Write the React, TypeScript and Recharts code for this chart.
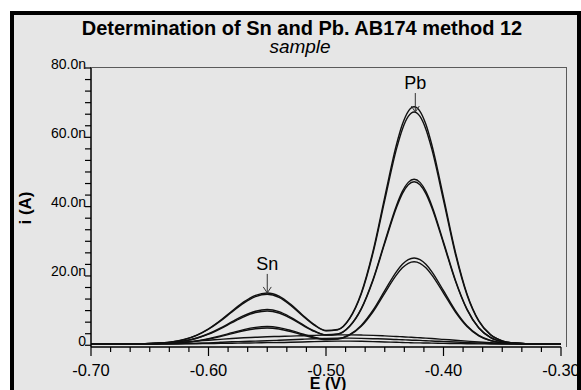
import { Line, LineChart, ReferenceDot, XAxis, YAxis } from "recharts";

// potential (V)
const potentials = [
  -0.7, -0.68, -0.66, -0.64, -0.63, -0.62, -0.61, -0.6, -0.59, -0.58, -0.57, -0.56, -0.55, -0.54, -0.53, -0.52,
  -0.51, -0.5, -0.49, -0.48, -0.47, -0.46, -0.45, -0.44, -0.435, -0.43, -0.425, -0.42, -0.415, -0.41, -0.4, -0.39,
  -0.38, -0.37, -0.36, -0.35, -0.34, -0.32, -0.3,
];

// current (nA), one array per scan
const scan1 = [
  0.4, 0.4, 0.44, 0.68, 1.05, 1.74, 2.93, 4.74, 7.13, 9.88, 12.5, 14.39, 15.1, 14.19, 11.8, 8.75,
  5.96, 4.27, 4.55, 7.75, 15.08, 27.16, 42.76, 57.92, 63.74, 67.5, 68.8, 67.5, 63.74, 57.92, 42.74, 27.08,
  14.83, 7.1, 3.07, 1.29, 0.67, 0.41, 0.4,
];
const scan2 = [
  0.4, 0.4, 0.44, 0.67, 1.03, 1.7, 2.86, 4.62, 6.95, 9.62, 12.17, 14.01, 14.7, 13.81, 11.49, 8.52,
  5.81, 4.17, 4.45, 7.59, 14.76, 26.57, 41.83, 56.66, 62.35, 66.03, 67.3, 66.03, 62.35, 56.66, 41.81, 26.49,
  14.52, 6.96, 3.01, 1.27, 0.66, 0.41, 0.4,
];
const scan3 = [
  0.4, 0.4, 0.43, 0.59, 0.84, 1.3, 2.1, 3.32, 4.93, 6.79, 8.55, 9.82, 10.3, 9.69, 8.07, 6.02,
  4.15, 3.03, 3.25, 5.5, 10.59, 18.99, 29.82, 40.35, 44.39, 47.0, 47.9, 47.0, 44.39, 40.35, 29.8, 18.93,
  10.42, 5.06, 2.25, 1.02, 0.59, 0.41, 0.4,
];
const scan4 = [
  0.4, 0.4, 0.43, 0.58, 0.82, 1.26, 2.03, 3.2, 4.75, 6.53, 8.22, 9.44, 9.9, 9.31, 7.76, 5.8,
  4.0, 2.94, 3.19, 5.41, 10.43, 18.7, 29.39, 39.76, 43.74, 46.31, 47.2, 46.31, 43.74, 39.76, 29.37, 18.65,
  10.27, 4.99, 2.23, 1.01, 0.58, 0.41, 0.4,
];
const scan5 = [
  0.4, 0.4, 0.41, 0.5, 0.62, 0.86, 1.26, 1.88, 2.69, 3.63, 4.52, 5.16, 5.4, 5.09, 4.28, 3.24,
  2.3, 1.74, 1.88, 3.05, 5.72, 10.1, 15.76, 21.26, 23.36, 24.73, 25.2, 24.73, 23.36, 21.26, 15.75, 10.07,
  5.63, 2.83, 1.37, 0.72, 0.5, 0.4, 0.4,
];
const scan6 = [
  0.4, 0.4, 0.41, 0.49, 0.6, 0.82, 1.19, 1.76, 2.51, 3.37, 4.19, 4.78, 5.0, 4.71, 3.97, 3.01,
  2.15, 1.64, 1.78, 2.92, 5.48, 9.67, 15.07, 20.33, 22.35, 23.65, 24.1, 23.65, 22.35, 20.33, 15.07, 9.64,
  5.4, 2.72, 1.32, 0.71, 0.49, 0.4, 0.4,
];
const sample1 = [
  0.4, 0.4, 0.45, 0.6, 0.75, 0.95, 1.2, 1.45, 1.7, 1.95, 2.15, 2.3, 2.45, 2.55, 2.65, 2.75,
  2.85, 2.95, 3.0, 3.0, 2.95, 2.85, 2.7, 2.55, 2.45, 2.35, 2.25, 2.15, 2.05, 1.95, 1.7, 1.45,
  1.2, 0.95, 0.75, 0.6, 0.5, 0.42, 0.4,
];
const sample2 = [
  0.35, 0.35, 0.35, 0.4, 0.45, 0.5, 0.6, 0.7, 0.85, 1.0, 1.1, 1.2, 1.3, 1.45, 1.6, 1.75,
  1.9, 2.0, 2.05, 2.05, 2.0, 1.9, 1.8, 1.65, 1.6, 1.5, 1.45, 1.4, 1.3, 1.25, 1.1, 0.95,
  0.8, 0.65, 0.55, 0.45, 0.4, 0.38, 0.38,
];
const sample3 = [
  0.3, 0.3, 0.3, 0.32, 0.35, 0.4, 0.45, 0.5, 0.55, 0.6, 0.65, 0.7, 0.75, 0.8, 0.85, 0.95,
  1.05, 1.15, 1.2, 1.2, 1.15, 1.05, 0.95, 0.85, 0.8, 0.75, 0.7, 0.68, 0.65, 0.62, 0.55, 0.5,
  0.45, 0.4, 0.38, 0.35, 0.33, 0.32, 0.3,
];

const scans = [scan1, scan2, scan3, scan4, scan5, scan6, sample1, sample2, sample3];

const xMajorTicks = [-0.7, -0.6, -0.5, -0.4, -0.3];
const xTickLabels = ["-0.70", "-0.60", "-0.50", "-0.40", "-0.30"];
const yMajorTicks = [0, 20, 40, 60, 80];
const yTickLabels = ["0", "20.0n", "40.0n", "60.0n", "80.0n"];

const peaks = [
  { label: "Sn", e: -0.55, i: 15.1 },
  { label: "Pb", e: -0.424, i: 67.3 },
];

const data = potentials.map((e, idx) => {
  const row: Record<string, number> = { e };
  scans.forEach((s, k) => {
    row["s" + k] = s[idx];
  });
  return row;
});

// 6 minor divisions between major ticks
const subdivide = (major: number[]) => {
  const out: number[] = [];
  for (let m = 0; m < major.length - 1; m++) {
    const step = (major[m + 1] - major[m]) / 6;
    for (let k = 0; k < 6; k++) out.push(major[m] + k * step);
  }
  out.push(major[major.length - 1]);
  return out;
};
const xTicks = subdivide(xMajorTicks);
const yTicks = subdivide(yMajorTicks);

const findMajor = (list: number[], v: number) => list.findIndex((m) => Math.abs(m - v) < 1e-6);

const FONT = "'Liberation Sans', Arial, sans-serif";

const XTick = (props: any) => {
  const { x, y, payload } = props;
  const idx = findMajor(xMajorTicks, payload.value);
  const major = idx >= 0;
  return (
    <g>
      <line x1={x} x2={x} y1={y} y2={y + (major ? 9 : 5)} stroke="#000" strokeWidth={1.2} />
      {major && (
        <text x={x} y={y + 29} textAnchor="middle" fontSize={16.5} fontFamily={FONT} fill="#000">
          {xTickLabels[idx]}
        </text>
      )}
    </g>
  );
};

const YTick = (props: any) => {
  const { x, y, payload } = props;
  const idx = findMajor(yMajorTicks, payload.value);
  return (
    <g>
      <line x1={x - 6} x2={x} y1={y} y2={y} stroke="#000" strokeWidth={1.2} />
      {idx >= 0 && (
        <text x={x - 5} y={y + 0.5} textAnchor="end" fontSize={14} fontFamily={FONT} fill="#000">
          {yTickLabels[idx]}
        </text>
      )}
    </g>
  );
};

const peakMarker = (label: string) => (props: any) => {
  const { cx, cy } = props;
  return (
    <g>
      <text x={cx} y={cy - 23} textAnchor="middle" fontSize={18} fontFamily={FONT} fill="#000">
        {label}
      </text>
      <line x1={cx} x2={cx} y1={cy - 19} y2={cy} stroke="#333" strokeWidth={1} />
      <polyline points={`${cx - 4},${cy - 6} ${cx},${cy} ${cx + 4},${cy - 6}`} fill="none" stroke="#333" strokeWidth={1} />
    </g>
  );
};

export default function App() {
  return (
    <div style={{ position: "absolute", left: 0, top: 0, width: 581, height: 390, overflow: "hidden" }}>
      <div
        style={{
          position: "absolute",
          left: 10,
          top: 11,
          width: 571,
          height: 379,
          boxSizing: "border-box",
          border: "4px solid #000",
          borderBottom: "none",
          background: "#e6e6e6",
        }}
      />
      <div
        style={{
          position: "absolute",
          left: 90,
          top: 67,
          width: 477,
          height: 280,
          boxSizing: "border-box",
          borderTop: "1.5px solid #5a5a5a",
          borderRight: "1.5px solid #5a5a5a",
        }}
      />
      <div style={{ position: "absolute", left: 0, top: 0 }}>
        <LineChart width={581} height={390} data={data} margin={{ top: 68, right: 20, bottom: 13, left: 11 }}>
          <XAxis
            dataKey="e"
            type="number"
            domain={[-0.7, -0.3]}
            ticks={xTicks}
            interval={0}
            tick={<XTick />}
            tickSize={0}
            tickMargin={0}
            tickLine={false}
            axisLine={{ stroke: "#000", strokeWidth: 1.5 }}
            height={30}
          />
          <YAxis
            type="number"
            domain={[-0.5, 80]}
            ticks={yTicks}
            interval={0}
            tick={<YTick />}
            tickSize={0}
            tickMargin={0}
            tickLine={false}
            axisLine={{ stroke: "#000", strokeWidth: 1.5 }}
            width={80}
          />
          {scans.map((_, k) => (
            <Line
              key={k}
              dataKey={"s" + k}
              type="monotone"
              stroke="#111"
              strokeWidth={1.4}
              dot={false}
              isAnimationActive={false}
            />
          ))}
          {peaks.map((p) => (
            <ReferenceDot key={p.label} x={p.e} y={p.i} r={0} shape={peakMarker(p.label)} />
          ))}
        </LineChart>
      </div>
      <svg width={581} height={390} style={{ position: "absolute", left: 0, top: 0 }}>
        <text x={302} y={35} textAnchor="middle" fontSize={20} fontWeight="bold" fontFamily={FONT}>
          Determination of Sn and Pb. AB174 method 12
        </text>
        <text x={300} y={53} textAnchor="middle" fontSize={19} fontStyle="italic" fontFamily={FONT}>
          sample
        </text>
        <text x={328} y={389} textAnchor="middle" fontSize={16} fontWeight="bold" fontFamily={FONT}>
          E (V)
        </text>
        <text
          x={0}
          y={0}
          transform="translate(31,208) rotate(-90)"
          textAnchor="middle"
          fontSize={17}
          fontWeight="bold"
          fontFamily={FONT}
        >
          i (A)
        </text>
      </svg>
    </div>
  );
}
